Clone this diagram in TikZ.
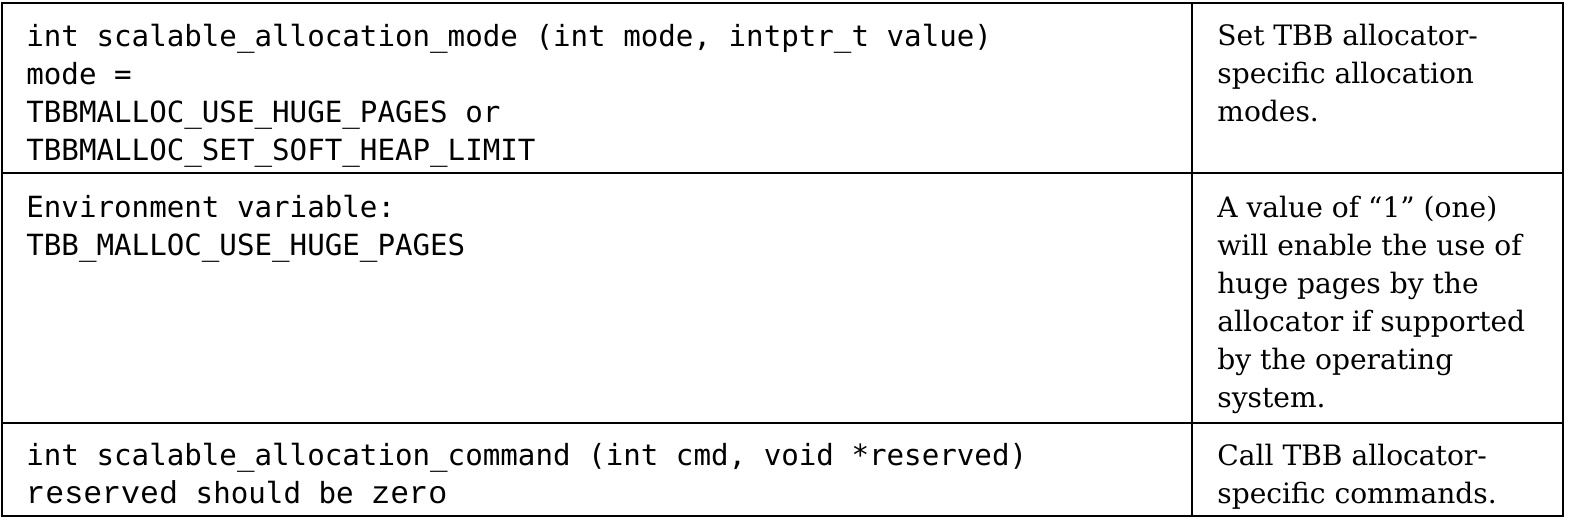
\documentclass[tikz,border=0pt]{standalone}
\usepackage{fontspec}
\setmainfont{DejaVu Serif}
\setmonofont{DejaVu Sans Mono}
\newfontfamily\courfont{Liberation Mono}
\begin{document}
\begin{tikzpicture}[x=0.02cm,y=-0.02cm,
  codecell/.style={anchor=north west,inner sep=0pt,align=left,font=\fontsize{16.6}{21.6}\selectfont\ttfamily},
  desccell/.style={anchor=north west,inner sep=0pt,align=left,font=\fontsize{16}{21.6}\selectfont}]
\useasboundingbox (0,0) rectangle (1579,521);
% table grid
\draw[line width=1.2pt] (2,3) rectangle (1563,516);
\draw[line width=1.2pt] (1192,3) -- (1192,516);
\draw[line width=1.2pt] (2,173) -- (1563,173);
\draw[line width=1.2pt] (2,423) -- (1563,423);
% left column
\node[codecell] (c1) at (26,24) {int scalable\_allocation\_mode (int mode, intptr\_t value)\\mode =\\TBBMALLOC\_USE\_HUGE\_PAGES or\\TBBMALLOC\_SET\_SOFT\_HEAP\_LIMIT};
\node[codecell] (c2) at (26,195) {Environment variable:\\TBB\_MALLOC\_USE\_HUGE\_PAGES};
\node[codecell] (c3) at (26,443) {int scalable\_allocation\_command (int cmd, void *reserved)\\{\courfont\fontsize{18}{21.6}\selectfont reserved} should be {\courfont\fontsize{18}{21.6}\selectfont zero}};
% right column
\node[desccell] (d1) at (1217,24) {Set TBB allocator-\\specific allocation\\modes.};
\node[desccell] (d2) at (1217,196) {A value of “1” (one)\\will enable the use of\\huge pages by the\\allocator if supported\\by the operating\\system.};
\node[desccell] (d3) at (1217,444) {Call TBB allocator-\\specific commands.};
\end{tikzpicture}
\end{document}
